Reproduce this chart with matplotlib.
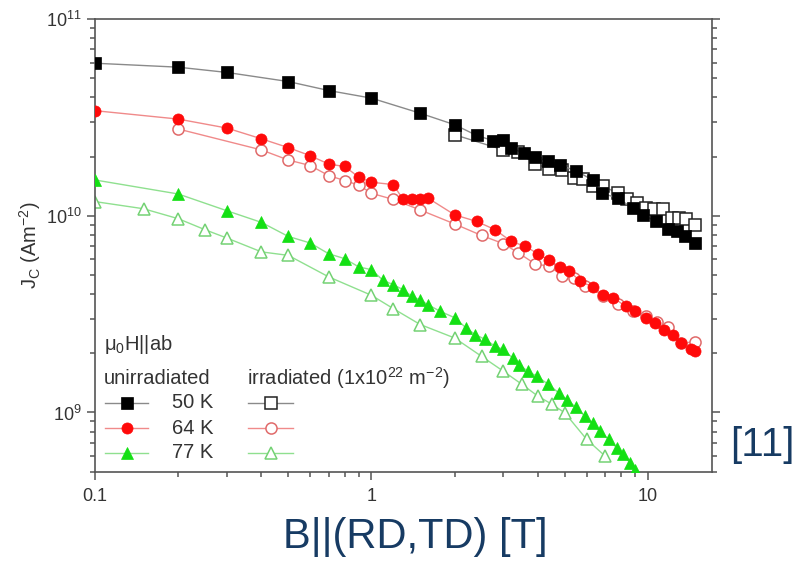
import matplotlib
matplotlib.use("Agg")
import matplotlib.pyplot as plt
from matplotlib.ticker import LogLocator, FixedLocator, FixedFormatter, NullFormatter
from matplotlib.lines import Line2D

plt.rcParams['font.family'] = ['Liberation Sans', 'DejaVu Sans']
plt.rcParams['mathtext.default'] = 'regular'

# ---------------- data ----------------
b50 = [0.1, 0.2, 0.3, 0.5, 0.7, 1.0, 1.5, 2.0, 2.4, 2.75, 3.0, 3.2, 3.55, 3.9, 4.35,
       4.8, 5.5, 6.3, 6.8, 7.8, 8.8, 9.6, 10.7, 11.8, 12.7, 13.6, 14.8]
j50 = [5.96e10, 5.69e10, 5.35e10, 4.81e10, 4.33e10, 3.96e10, 3.32e10, 2.90e10, 2.56e10,
       2.41e10, 2.43e10, 2.21e10, 2.08e10, 2.00e10, 1.89e10, 1.81e10, 1.69e10, 1.52e10,
       1.30e10, 1.23e10, 1.09e10, 1.01e10, 9.36e9, 8.56e9, 8.32e9, 7.91e9, 7.27e9]

b50i = [2.0, 3.0, 3.4, 3.9, 4.4, 4.9, 5.4, 5.8, 6.3, 6.9, 7.8, 8.4, 9.1, 9.8, 10.5,
        11.3, 12.2, 13.0, 13.7, 14.8]
j50i = [2.58e10, 2.16e10, 2.10e10, 1.84e10, 1.73e10, 1.71e10, 1.55e10, 1.54e10, 1.41e10,
        1.41e10, 1.30e10, 1.21e10, 1.16e10, 1.09e10, 1.08e10, 1.08e10, 9.7e9, 9.7e9,
        9.6e9, 9.0e9]

b64 = [0.1, 0.2, 0.3, 0.4, 0.5, 0.6, 0.7, 0.8, 0.9, 1.0, 1.2, 1.3, 1.4, 1.5, 1.6, 2.0,
       2.4, 2.8, 3.2, 3.6, 4.0, 4.4, 4.8, 5.2, 5.7, 6.3, 6.9, 7.5, 8.3, 9.0, 9.8, 10.6,
       11.4, 12.3, 13.2, 14.3, 14.8]
j64 = [3.42e10, 3.10e10, 2.79e10, 2.46e10, 2.22e10, 2.02e10, 1.83e10, 1.78e10, 1.57e10,
       1.48e10, 1.44e10, 1.21e10, 1.21e10, 1.21e10, 1.23e10, 1.01e10, 9.36e9, 8.49e9,
       7.41e9, 6.99e9, 6.41e9, 5.93e9, 5.49e9, 5.21e9, 4.64e9, 4.35e9, 3.97e9, 3.82e9,
       3.47e9, 3.27e9, 3.03e9, 2.85e9, 2.64e9, 2.49e9, 2.26e9, 2.09e9, 2.05e9]

b64i = [0.2, 0.4, 0.5, 0.6, 0.7, 0.8, 0.9, 1.0, 1.2, 1.5, 2.0, 2.5, 3.0, 3.4, 3.9, 4.4,
        4.9, 5.4, 5.9, 6.9, 7.8, 8.8, 9.8, 10.8, 11.8, 13.2, 14.8]
j64i = [2.76e10, 2.16e10, 1.92e10, 1.80e10, 1.60e10, 1.51e10, 1.43e10, 1.30e10, 1.21e10,
        1.07e10, 9.08e9, 7.94e9, 7.21e9, 6.47e9, 5.70e9, 5.53e9, 4.96e9, 4.83e9, 4.38e9,
        3.93e9, 3.57e9, 3.27e9, 3.08e9, 2.90e9, 2.72e9, 2.26e9, 2.28e9]

b77 = [0.1, 0.2, 0.3, 0.4, 0.5, 0.6, 0.7, 0.8, 0.9, 1.0, 1.1, 1.2, 1.3, 1.4, 1.5, 1.6,
       1.77, 2.0, 2.2, 2.37, 2.58, 2.8, 3.0, 3.24, 3.43, 3.67, 3.96, 4.36, 4.75, 5.1, 5.5,
       5.9, 6.3, 6.7, 7.2, 7.7, 8.1, 8.6, 9.0, 9.5]
j77 = [1.52e10, 1.29e10, 1.06e10, 9.25e9, 7.85e9, 7.27e9, 6.41e9, 6.05e9, 5.49e9, 5.32e9,
       4.70e9, 4.46e9, 4.21e9, 3.89e9, 3.73e9, 3.53e9, 3.27e9, 3.03e9, 2.69e9, 2.49e9,
       2.35e9, 2.17e9, 2.09e9, 1.89e9, 1.75e9, 1.62e9, 1.53e9, 1.39e9, 1.26e9, 1.16e9,
       1.06e9, 9.58e8, 8.87e8, 8.04e8, 7.30e8, 6.62e8, 6.12e8, 5.56e8, 5.10e8, 4.60e8]

b77i = [0.1, 0.15, 0.2, 0.25, 0.3, 0.4, 0.5, 0.7, 1.0, 1.2, 1.5, 2.0, 2.5, 3.0, 3.5, 4.0,
        4.5, 5.0, 6.0, 7.0]
j77i = [1.18e10, 1.085e10, 9.66e9, 8.49e9, 7.70e9, 6.55e9, 6.29e9, 4.89e9, 3.94e9,
        3.37e9, 2.80e9, 2.39e9, 1.93e9, 1.62e9, 1.39e9, 1.21e9, 1.10e9, 9.96e8, 7.3e8, 6.0e8]

temps = ["50 K", "64 K", "77 K"]
x_ticks = [0.1, 1, 10]
x_ticklabels = ["0.1", "1", "10"]
y_ticks = [1e9, 1e10, 1e11]
y_ticklabels = [r"$10^{9}$", r"$10^{10}$", r"$10^{11}$"]

# ---------------- styles ----------------
fill_col = ['#000000', '#ff0a0a', '#14e014']
line_col = ['#8a8a8a', '#f08a8a', '#8fe08f']
open_col = ['#222222', '#e06a6a', '#74d274']
mk = ['s', 'o', '^']
ms = 8
txt = '#333333'
navy = '#173b63'

fig = plt.figure(figsize=(7.96, 5.64), dpi=100)
ax = fig.add_axes([95/796, 1-471.7/564, (711.7-95)/796, (471.7-19)/564])

series_u = [(b50, j50), (b64, j64), (b77, j77)]
series_i = [(b50i, j50i), (b64i, j64i), (b77i, j77i)]
for k in range(3):
    bi, ji = series_i[k]
    ax.plot(bi, ji, '-', color=line_col[k], lw=1.0, marker=mk[k], ms=ms,
            mfc='white', mec=open_col[k], mew=1.1, zorder=2)
for k in range(3):
    bu, ju = series_u[k]
    ax.plot(bu, ju, '-', color=line_col[k], lw=1.0, marker=mk[k], ms=ms,
            mfc=fill_col[k], mec=fill_col[k], mew=0.5, zorder=3)

ax.set_xscale('log')
ax.set_yscale('log')
ax.set_xlim(0.1, 17)
ax.set_ylim(5e8, 1e11)

ax.xaxis.set_major_locator(FixedLocator(x_ticks))
ax.xaxis.set_major_formatter(FixedFormatter(x_ticklabels))
ax.xaxis.set_minor_locator(LogLocator(base=10, subs=range(2, 10)))
ax.xaxis.set_minor_formatter(NullFormatter())
ax.yaxis.set_major_locator(FixedLocator(y_ticks))
ax.yaxis.set_major_formatter(FixedFormatter(y_ticklabels))
ax.yaxis.set_minor_locator(LogLocator(base=10, subs=range(2, 10)))
ax.yaxis.set_minor_formatter(NullFormatter())

ax.tick_params(axis='both', which='both', direction='out', colors='#555555',
               labelcolor=txt, labelsize=13, width=1.1)
ax.tick_params(which='major', length=6)
ax.tick_params(which='minor', length=3.5)
ax.tick_params(axis='y', which='both', right=True, left=True, labelright=False)
ax.tick_params(axis='x', which='both', top=False)
ax.tick_params(axis='x', pad=6)
for s in ax.spines.values():
    s.set_color('#555555')
    s.set_linewidth(1.2)

fig.text(30/796, 1-245/564, r"J$_{C}$ (Am$^{-2}$)", rotation=90, ha='center',
         va='center', fontsize=14.5, color=txt)

# ---------------- legend (manual) ----------------
def ax_x(px):
    return (px - 95) / 616.7

def ax_y(py):
    return (471.7 - py) / 452.7

lt = ax.transAxes
ax.text(ax_x(104), ax_y(345), r"$\mu_0$H||ab", transform=lt, fontsize=14.5,
        color=txt, va='center', ha='left')
ax.text(ax_x(104), ax_y(378), "unirradiated", transform=lt, fontsize=14.5,
        color=txt, va='center', ha='left')
ax.text(ax_x(247), ax_y(378), r"irradiated (1x10$^{22}$ m$^{-2}$)", transform=lt,
        fontsize=14.5, color=txt, va='center', ha='left')
rows = [403, 428, 453]
for k in range(3):
    yy = ax_y(rows[k])
    ax.add_line(Line2D([ax_x(105), ax_x(148)], [yy, yy], transform=lt,
                       color=line_col[k], lw=1.0))
    ax.add_line(Line2D([ax_x(126.5)], [yy], transform=lt, marker=mk[k], ms=ms,
                       mfc=fill_col[k], mec=fill_col[k], mew=0.5, ls='none'))
    ax.text(ax_x(172), yy, temps[k], transform=lt, fontsize=14.5, color=txt,
            va='center', ha='left')
    ax.add_line(Line2D([ax_x(248), ax_x(293)], [yy, yy], transform=lt,
                       color=line_col[k], lw=1.0))
    ax.add_line(Line2D([ax_x(270.5)], [yy], transform=lt, marker=mk[k], ms=ms,
                       mfc='white', mec=open_col[k], mew=1.1, ls='none'))

# ---------------- outer texts ----------------
fig.text(415/796, 1-537/564, "B||(RD,TD) [T]", ha='center', va='center',
         fontsize=30, color=navy)
fig.text(762/796, 1-445/564, "[11]", ha='center', va='center',
         fontsize=29, color=navy)

fig.savefig("out.png", dpi=100)
